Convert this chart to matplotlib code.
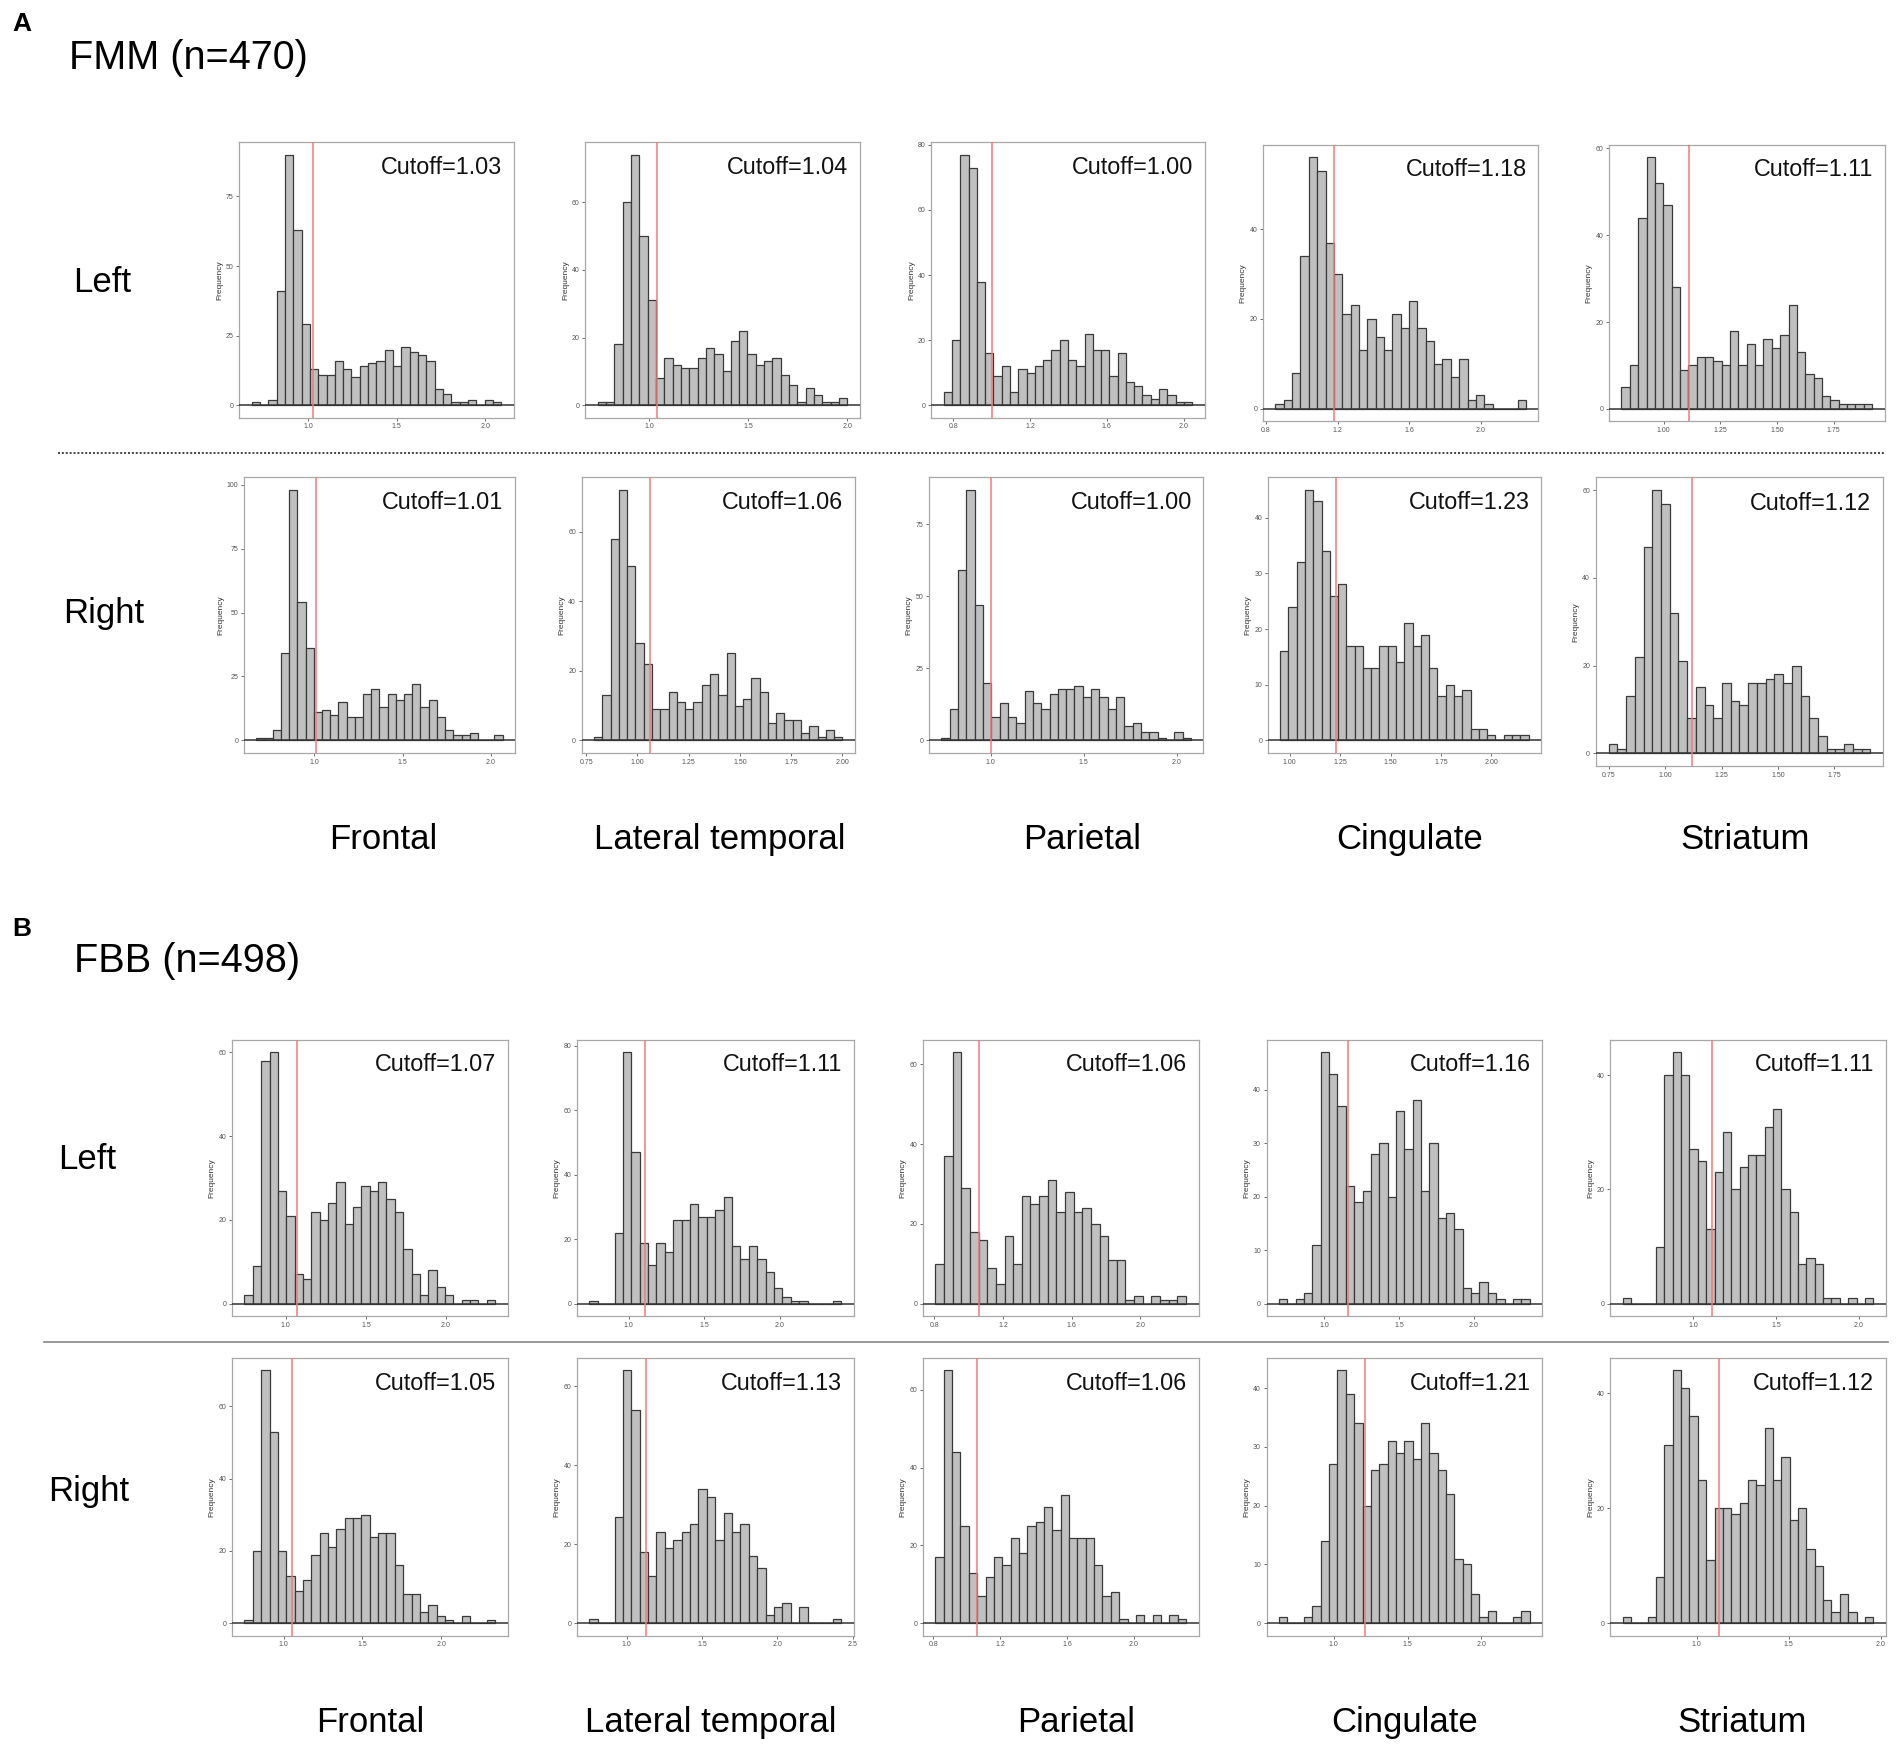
import matplotlib
matplotlib.use("Agg")
import matplotlib.pyplot as plt
import numpy as np

plt.rcParams['font.family'] = ['Liberation Sans', 'DejaVu Sans']

# ---------------- data ----------------
regions = ['Frontal', 'Lateral temporal', 'Parietal', 'Cingulate', 'Striatum']

# FMM, left hemisphere
fmm_left_frontal = [1,0,2,41,90,63,29,13,11,11,16,13,10,14,15,16,20,14,21,19,18,16,6,4,1,1,2,0,2,1]
fmm_left_lattemp = [1,1,18,60,74,50,31,8,14,12,11,11,14,17,15,10,19,22,15,12,13,14,9,6,1,5,3,1,1,2]
fmm_left_parietal = [4,20,77,73,38,16,9,12,4,11,10,12,14,17,20,14,12,22,17,17,9,16,7,6,3,2,5,3,1,1]
fmm_left_cingulate = [1,2,8,34,56,53,37,30,21,23,13,20,16,13,21,18,24,18,15,10,11,7,11,2,3,1,0,0,0,2]
fmm_left_striatum = [5,10,44,58,52,47,28,9,10,12,12,11,10,18,10,15,10,16,14,17,24,13,8,7,3,2,1,1,1,1]
fmm_left_ranges = [(0.681, 2.09), (0.74, 2.0), (0.751, 2.045), (0.853, 2.251), (0.814, 1.919)]
fmm_left_cutoffs = [1.03, 1.04, 1.00, 1.18, 1.11]
fmm_left_xticks = [[1.0, 1.5, 2.0], [1.0, 1.5, 2.0], [0.8, 1.2, 1.6, 2.0], [0.8, 1.2, 1.6, 2.0], [1.00, 1.25, 1.50, 1.75]]
fmm_left_yticks = [[0, 25, 50, 75], [0, 20, 40, 60], [0, 20, 40, 60, 80], [0, 20, 40], [0, 20, 40, 60]]

# FMM, right hemisphere
fmm_right_frontal = [1,1,4,34,98,54,36,11,12,10,15,9,9,18,20,13,18,16,18,22,13,16,9,4,2,2,3,0,0,2]
fmm_right_lattemp = [1,13,58,72,50,28,22,9,9,14,11,9,11,16,19,13,25,10,12,18,14,5,8,6,6,2,4,1,3,1]
fmm_right_parietal = [1,11,59,87,47,20,8,13,8,6,17,13,11,16,18,18,19,15,18,15,11,15,5,6,3,3,1,0,3,1]
fmm_right_cingulate = [16,24,32,45,43,34,26,28,17,17,13,13,17,17,14,21,17,19,13,8,10,8,9,2,2,1,0,1,1,1]
fmm_right_striatum = [2,1,13,22,47,60,57,32,21,8,15,11,8,16,12,11,16,16,17,18,16,20,13,8,4,1,1,2,1,1]
fmm_right_ranges = [(0.672, 2.066), (0.789, 2.0), (0.736, 2.075), (0.953, 2.184), (0.75, 1.909)]
fmm_right_cutoffs = [1.01, 1.06, 1.00, 1.23, 1.12]
fmm_right_xticks = [[1.0, 1.5, 2.0], [0.75, 1.00, 1.25, 1.50, 1.75, 2.00], [1.0, 1.5, 2.0],
                    [1.00, 1.25, 1.50, 1.75, 2.00], [0.75, 1.00, 1.25, 1.50, 1.75]]
fmm_right_yticks = [[0, 25, 50, 75, 100], [0, 20, 40, 60], [0, 25, 50, 75], [0, 10, 20, 30, 40], [0, 20, 40, 60]]

# FBB, left hemisphere
fbb_left_frontal = [2,9,58,60,27,21,7,6,22,20,24,29,19,23,28,27,29,25,22,13,7,2,8,4,2,0,1,1,0,1]
fbb_left_lattemp = [1,0,0,22,78,47,19,12,19,16,26,26,31,27,27,29,33,18,14,18,14,10,5,2,1,1,0,0,0,1]
fbb_left_parietal = [10,37,63,29,18,16,9,5,17,10,27,25,27,31,23,28,23,24,20,17,11,11,1,2,0,2,1,1,2]
fbb_left_cingulate = [1,0,1,2,11,47,43,37,22,19,21,28,30,20,36,29,38,21,30,16,17,14,3,2,4,2,1,0,1,1]
fbb_left_striatum = [1,0,0,0,10,40,44,40,27,25,13,23,30,20,24,26,26,31,34,20,16,7,8,7,1,1,0,1,0,1]
fbb_left_ranges = [(0.742, 2.306), (0.741, 2.406), (0.807, 2.265), (0.70, 2.373), (0.572, 2.089)]
fbb_left_cutoffs = [1.07, 1.11, 1.06, 1.16, 1.11]
fbb_left_xticks = [[1.0, 1.5, 2.0], [1.0, 1.5, 2.0], [0.8, 1.2, 1.6, 2.0], [1.0, 1.5, 2.0], [1.0, 1.5, 2.0]]
fbb_left_yticks = [[0, 20, 40, 60], [0, 20, 40, 60, 80], [0, 20, 40, 60], [0, 10, 20, 30, 40], [0, 20, 40]]

# FBB, right hemisphere
fbb_right_frontal = [1,20,70,53,20,13,9,12,19,25,21,26,29,29,30,24,25,25,16,8,8,3,5,2,1,0,2,0,0,1]
fbb_right_lattemp = [1,0,0,27,64,54,18,12,23,19,21,23,25,34,32,21,28,23,25,17,14,2,4,5,0,4,0,0,0,1]
fbb_right_parietal = [17,65,44,25,13,7,12,17,15,22,18,25,26,30,24,33,22,22,22,15,7,8,1,0,2,0,2,0,2,1]
fbb_right_cingulate = [1,0,0,1,3,14,27,43,39,34,20,26,27,31,29,31,28,34,29,26,22,11,10,5,1,2,0,0,1,2]
fbb_right_striatum = [1,0,0,1,8,31,44,41,36,25,11,20,20,19,21,25,24,34,25,29,18,20,13,10,4,2,5,2,0,1]
fbb_right_ranges = [(0.751, 2.342), (0.752, 2.422), (0.812, 2.312), (0.63, 2.326), (0.599, 1.958)]
fbb_right_cutoffs = [1.05, 1.13, 1.06, 1.21, 1.12]
fbb_right_xticks = [[1.0, 1.5, 2.0], [1.0, 1.5, 2.0, 2.5], [0.8, 1.2, 1.6, 2.0], [1.0, 1.5, 2.0], [1.0, 1.5, 2.0]]
fbb_right_yticks = [[0, 20, 40, 60], [0, 20, 40, 60], [0, 20, 40, 60], [0, 10, 20, 30, 40], [0, 20, 40]]

rows = [
    ([fmm_left_frontal, fmm_left_lattemp, fmm_left_parietal, fmm_left_cingulate, fmm_left_striatum],
     fmm_left_ranges, fmm_left_cutoffs, fmm_left_xticks, fmm_left_yticks),
    ([fmm_right_frontal, fmm_right_lattemp, fmm_right_parietal, fmm_right_cingulate, fmm_right_striatum],
     fmm_right_ranges, fmm_right_cutoffs, fmm_right_xticks, fmm_right_yticks),
    ([fbb_left_frontal, fbb_left_lattemp, fbb_left_parietal, fbb_left_cingulate, fbb_left_striatum],
     fbb_left_ranges, fbb_left_cutoffs, fbb_left_xticks, fbb_left_yticks),
    ([fbb_right_frontal, fbb_right_lattemp, fbb_right_parietal, fbb_right_cingulate, fbb_right_striatum],
     fbb_right_ranges, fbb_right_cutoffs, fbb_right_xticks, fbb_right_yticks),
]

# ---------------- layout (reference-pixel units, 1568 x 1441 base) ----------------
W, H = 1568.0, 1441.0
row_x = [
    [(197, 423), (482, 708), (767, 992), (1040, 1267), (1325, 1552)],
    [(201, 424), (479, 704), (765, 991), (1044, 1269), (1314, 1551)],
    [(191, 418), (475, 703), (760, 987), (1043, 1270), (1326, 1553)],
    [(191, 418), (475, 703), (760, 987), (1043, 1270), (1326, 1553)],
]
row_y = [
    [(117, 344), (117, 344), (117, 344), (119, 347), (119, 347)],
    [(393, 620), (393, 620), (393, 620), (393, 620), (393, 631)],
    [(856, 1084), (856, 1084), (856, 1084), (856, 1084), (856, 1084)],
    [(1118, 1347), (1118, 1347), (1118, 1347), (1118, 1347), (1118, 1347)],
]


def rect(x0, x1, y0, y1):
    return [x0 / W, 1 - y1 / H, (x1 - x0) / W, (y1 - y0) / H]


fig = plt.figure(figsize=(19.04, 17.5), dpi=100)

bar_face = '#c0c0c0'
bar_edge = '#3a3a3a'
frame_col = '#a8a8a8'
tick_col = '#555555'
red = '#f07a7a'

for r, (counts_list, ranges, cutoffs, xticks, yticks) in enumerate(rows):
    for c in range(5):
        counts = np.array(counts_list[c], dtype=float)
        lo, hi = ranges[c]
        edges = np.linspace(lo, hi, len(counts) + 1)
        centers = 0.5 * (edges[:-1] + edges[1:])
        ax = fig.add_axes(rect(*row_x[r][c], *row_y[r][c]))
        ax.hist(centers, bins=edges, weights=counts, color=bar_face,
                edgecolor=bar_edge, linewidth=0.9, zorder=2)
        span = hi - lo
        ax.set_xlim(lo - 0.05 * span, hi + 0.05 * span)
        top = counts.max()
        ax.set_ylim(-0.05 * top, 1.05 * top)
        ax.axhline(0, color='#333333', lw=1.1, zorder=3)
        ax.axvline(cutoffs[c], color=red, lw=1.1, zorder=4)
        ax.text(0.958, 0.95, 'Cutoff=%.2f' % cutoffs[c], transform=ax.transAxes,
                ha='right', va='top', fontsize=16.8, color='#111111', zorder=5)
        ax.set_xticks(xticks[c])
        step = xticks[c][1] - xticks[c][0]
        fmt = '%.2f' if abs(step * 10 - round(step * 10)) > 1e-6 else '%.1f'
        ax.set_xticklabels([fmt % v for v in xticks[c]])
        ax.set_yticks(yticks[c])
        ax.tick_params(axis='both', labelsize=5, colors=tick_col, length=2,
                       width=0.6, pad=2)
        ax.set_ylabel('Frequency', fontsize=6, color='#333333', labelpad=2)
        for s in ax.spines.values():
            s.set_color(frame_col)
            s.set_linewidth(0.9)

# ---------------- figure-level text ----------------
def ft(x, y, s, **kw):
    fig.text(x / W, 1 - y / H, s, **kw)

ft(10, 20, 'A', fontsize=19, fontweight='bold', va='center', ha='left')
ft(57, 48, 'FMM (n=470)', fontsize=28.5, va='center', ha='left')
ft(60, 233, 'Left', fontsize=25, va='center', ha='left')
ft(52, 505, 'Right', fontsize=25, va='center', ha='left')

ft(10, 765, 'B', fontsize=19, fontweight='bold', va='center', ha='left')
ft(61, 791, 'FBB (n=498)', fontsize=28.5, va='center', ha='left')
ft(48, 955, 'Left', fontsize=25, va='center', ha='left')
ft(40, 1228, 'Right', fontsize=25, va='center', ha='left')

colA = [316, 593, 891, 1161, 1437]
colB = [305, 585, 886, 1157, 1435]
for name, xa, xb in zip(regions, colA, colB):
    ft(xa, 691, name, fontsize=25, va='center', ha='center')
    ft(xb, 1418, name, fontsize=25, va='center', ha='center')

# separators
fig.add_artist(plt.Line2D([48 / W, 1552 / W], [1 - 373 / H, 1 - 373 / H],
                          color='#444444', lw=1.4, linestyle=(0, (1, 1))))
fig.add_artist(plt.Line2D([36 / W, 1555 / W], [1 - 1105 / H, 1 - 1105 / H],
                          color='#888888', lw=1.2))

fig.savefig('out.png', dpi=100, facecolor='white')
